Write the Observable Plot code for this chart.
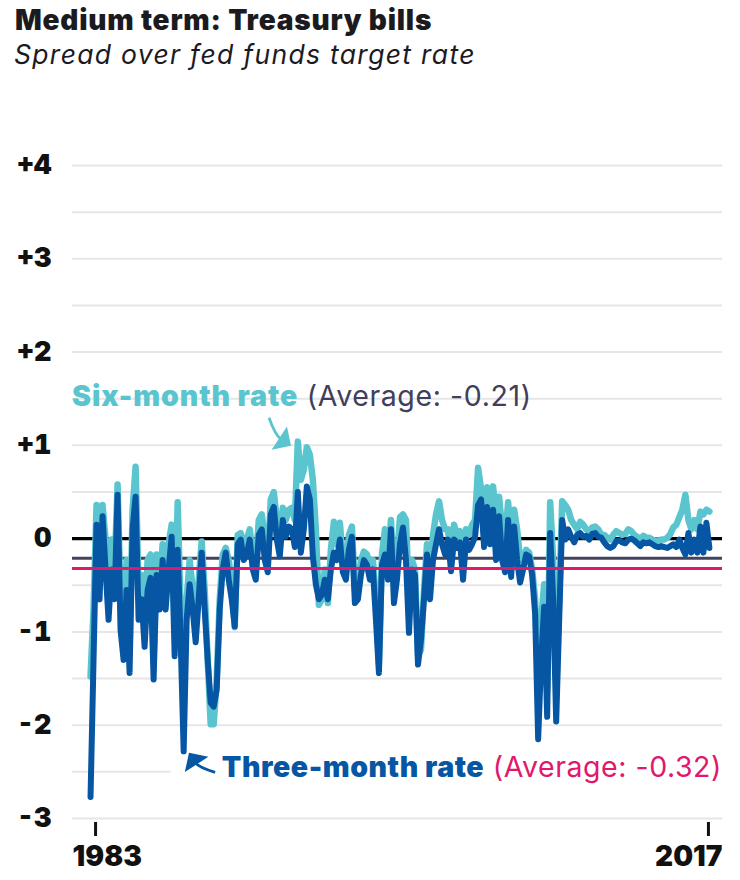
<!DOCTYPE html>
<html>
<head>
<meta charset="utf-8">
<script src="https://cdn.jsdelivr.net/npm/d3@7"></script>
<script src="https://cdn.jsdelivr.net/npm/@observablehq/plot@0.6"></script>
<style>
  html, body { margin: 0; padding: 0; background: #fff; }
  #wrap { width: 740px; height: 880px; position: relative; overflow: hidden; }
  #head { position: relative; height: 80px; }
  #title { position: absolute; left: 15px; top: 6px; font: 900 28px/1 Inter, sans-serif; letter-spacing: 0.8px; color: #1b1b1f; white-space: nowrap; }
  #subtitle { position: absolute; left: 14px; top: 41px; font: italic 400 26.5px/1 Inter, sans-serif; letter-spacing: 1.3px; color: #1b1b1f; white-space: nowrap; }
</style>
</head>
<body>
<div id="wrap">
  <div id="head">
    <div id="title">Medium term: Treasury bills</div>
    <div id="subtitle">Spread over fed funds target rate</div>
  </div>
  <div id="chart"></div>
</div>
<script>
// ---- data (spread in percentage points, sampled every 2 months) ----
const startYear = 1982.72;
const stepYears = 1 / 6;

const threeMonth = [
  -2.77, -1.30, 0.15, -0.65, 0.24, -0.33, -0.87, -0.33, -0.65, 0.47,
  -0.98, -1.30, -0.55, -1.44, 0.10, 0.45, -0.87, -0.65, -1.16, -0.55,
  -0.42, -1.51, -0.39, -0.76, -0.23, -0.76, -0.33, 0.02, -1.26, -0.12,
  -1.08, -2.28, -0.87, -0.49, -0.76, -1.11, -0.65, -0.15, -0.76, -1.30,
  -1.76, -1.80, -1.62, -0.76, -0.33, -0.15, -0.44, -0.65, -0.94, -0.06,
  -0.01, -0.23, -0.17, -0.01, -0.33, -0.44, 0.04, 0.10, -0.23, -0.36,
  0.26, 0.34, -0.01, -0.19, 0.20, 0.02, 0.13, 0.10, -0.09, 0.50,
  -0.15, 0.10, 0.56, 0.42, -0.19, -0.49, -0.65, -0.60, -0.44, -0.65,
  -0.33, -0.15, -0.23, -0.01, -0.36, -0.44, -0.12, 0.02, -0.69, -0.65,
  -0.39, -0.23, -0.28, -0.44, -0.33, -0.87, -1.44, -0.28, -0.17, -0.44,
  0.10, -0.69, -0.44, -0.06, 0.12, -0.23, -1.01, -0.33, -0.39, -1.35,
  -1.08, -0.65, -0.17, -0.65, -0.23, -0.06, 0.10, -0.06, -0.17, -0.01,
  -0.35, -0.01, -0.10, -0.04, -0.44, -0.01, -0.12, -0.06, 0.02, 0.36,
  0.42, -0.09, 0.34, -0.06, 0.31, -0.23, 0.24, -0.23, -0.36, 0.20,
  -0.41, 0.13, -0.23, -0.47, -0.33, -0.17, -0.19, -0.39, -0.81, -2.15,
  -1.30, -0.73, -1.91, 0.06, -0.65, -1.96, -0.87, 0.20, -0.01, 0.10,
  0.02, -0.04, 0.04, 0.06, 0.02, 0.03, -0.01, 0.05, 0.06, 0.02,
  0.01, -0.04, -0.08, -0.10, -0.08, -0.03, -0.02, -0.04, -0.05, -0.01,
  0.00, -0.02, -0.05, -0.08, -0.04, -0.05, -0.04, -0.06, -0.08, -0.09,
  -0.08, -0.09, -0.10, -0.08, -0.06, -0.09, -0.01, -0.10, -0.17, 0.06,
  -0.15, -0.01, -0.15, 0.13, -0.15, 0.17, -0.10
];

const sixMonth = [
  -1.48, -0.76, 0.36, -0.23, 0.36, -0.01, -0.55, -0.01, -0.33, 0.58,
  -0.65, -1.08, -0.23, -1.19, 0.31, 0.77, -0.55, -0.39, -0.87, -0.23,
  -0.17, -1.30, -0.17, -0.55, -0.06, -0.55, -0.06, 0.15, -0.98, 0.39,
  -0.76, -1.08, -0.65, -0.23, -0.55, -0.92, -0.44, -0.03, -0.55, -1.30,
  -1.99, -1.99, -1.51, -0.65, -0.17, -0.10, -0.23, -0.49, -0.95, 0.04,
  0.06, -0.06, -0.01, 0.10, -0.17, -0.28, 0.20, 0.26, -0.01, -0.23,
  0.42, 0.50, 0.20, -0.01, 0.33, 0.20, 0.31, 0.33, 0.20, 1.04,
  0.63, 0.74, 0.98, 0.90, 0.63, 0.10, -0.71, -0.65, -0.33, -0.69,
  -0.12, 0.18, -0.06, 0.17, -0.23, -0.33, 0.04, 0.13, -0.55, -0.55,
  -0.23, -0.14, -0.17, -0.28, -0.23, -0.65, -1.35, -0.17, 0.10, -0.23,
  0.20, -0.44, -0.23, 0.23, 0.26, 0.20, -0.65, -0.23, -0.33, -1.26,
  -1.19, -0.55, -0.06, -0.44, 0.04, 0.26, 0.40, 0.20, 0.10, 0.10,
  -0.23, 0.15, 0.04, 0.08, -0.33, 0.10, 0.04, 0.15, 0.20, 0.76,
  0.53, 0.31, 0.55, 0.36, 0.56, 0.20, 0.45, 0.10, -0.01, 0.39,
  -0.01, 0.31, 0.10, -0.23, -0.23, -0.12, -0.15, -0.33, -0.65, -1.59,
  -0.87, -0.49, -1.62, 0.39, -0.23, -1.51, -0.65, 0.40, 0.36, 0.31,
  0.20, 0.15, 0.10, 0.18, 0.15, 0.10, 0.08, 0.12, 0.13, 0.10,
  0.04, 0.04, 0.01, -0.01, 0.04, 0.08, 0.06, 0.04, 0.05, 0.10,
  0.08, 0.04, 0.02, -0.01, 0.03, 0.01, 0.01, -0.01, -0.02, -0.02,
  -0.01, -0.01, 0.01, 0.05, 0.12, 0.15, 0.23, 0.31, 0.47, 0.20,
  0.10, 0.20, 0.10, 0.29, 0.26, 0.31, 0.29
];

const sixAverage = -0.21;
const threeAverage = -0.32;

const yTicks = [-3, -2, -1, 0, 1, 2, 3, 4];
const gridLevels = [-3, -2.5, -2, -1.5, -1, -0.5, 0.5, 1, 1.5, 2, 2.5, 3, 3.5, 4];
const xTicks = [1983, 2017];
const xDomain = [1981.72, 2017.78];
const gridBreakYear = 1987.2; // the -2.5 gridline stops short of the label

const labels = {
  six: {x: xDomain[0], y: 1.42, anchor: "start",
        parts: [{text: "Six-month rate", color: "#5bc5cf", weight: 900, spacing: 0.9},
                {text: " (Average: -0.21)", color: "#3f3f5b", weight: 400, spacing: 0.6}]},
  three: {x: xDomain[1], y: -2.56, anchor: "end",
        parts: [{text: "Three-month rate", color: "#0656a3", weight: 900, spacing: 0.55},
                {text: " (Average: -0.32)", color: "#e0196b", weight: 400, spacing: 0.55}]}
};
const arrows = [
  {x1: 1992.65, y1: 1.29, x2: 1993.87, y2: 0.99, bend: 6, color: "#5bc5cf"},
  {x1: 1989.66, y1: -2.51, x2: 1988.21, y2: -2.30, bend: -6, color: "#0656a3"}
];

const colors = {six: "#5bc5cf", three: "#0656a3", sixAvg: "#43435d", threeAvg: "#e0196b", grid: "#e6e6e6"};

// ---- tables ----
const toRows = arr => arr.map((v, i) => ({year: startYear + i * stepYears, value: v}));
const sixRows = toRows(sixMonth);
const threeRows = toRows(threeMonth);

const fmt = d => d > 0 ? "+" + d : d < 0 ? "-" + Math.abs(d) : "0";

function richLabel(lab) {
  return (index, scales) => {
    const t = d3.create("svg:text")
      .attr("x", scales.x(lab.x))
      .attr("y", scales.y(lab.y))
      .attr("text-anchor", lab.anchor)
      .attr("font-size", 28.5)
      .attr("font-family", "Inter, sans-serif");
    lab.parts.forEach(p => t.append("tspan").attr("fill", p.color).attr("font-weight", p.weight)
      .attr("letter-spacing", p.spacing).text(p.text));
    return t.node();
  };
}

function curvedArrow(a) {
  return (index, scales) => {
    const x1 = scales.x(a.x1), y1 = scales.y(a.y1), x2 = scales.x(a.x2), y2 = scales.y(a.y2);
    const dx = x2 - x1, dy = y2 - y1, len = Math.hypot(dx, dy);
    const nx = -dy / len, ny = dx / len;
    const cx = (x1 + x2) / 2 + nx * a.bend, cy = (y1 + y2) / 2 + ny * a.bend;
    let ux = x2 - cx, uy = y2 - cy; const ul = Math.hypot(ux, uy); ux /= ul; uy /= ul;
    const hl = 14, hw = 14;
    const bx = x2 - ux * hl, by = y2 - uy * hl;
    const g = d3.create("svg:g");
    g.append("path")
      .attr("d", `M${x1},${y1}Q${cx},${cy} ${bx + ux * 2},${by + uy * 2}`)
      .attr("fill", "none").attr("stroke", a.color).attr("stroke-width", 2.8);
    g.append("path")
      .attr("d", `M${x2},${y2}L${bx - uy * hw},${by + ux * hw}L${bx + uy * hw},${by - ux * hw}Z`)
      .attr("fill", a.color);
    return g.node();
  };
}

const chart = Plot.plot({
  width: 740,
  height: 800,
  marginLeft: 72,
  marginRight: 18,
  marginTop: 85,
  marginBottom: 58,
  x: {domain: xDomain, label: null},
  y: {domain: [-3, 4], insetBottom: 4, label: null},
  style: {fontFamily: "Inter, sans-serif", fontSize: "27px", fontWeight: 900, color: "#111", background: "#fff", overflow: "visible"},
  marks: [
    Plot.ruleY(gridLevels.filter(d => d !== -2.5), {stroke: colors.grid, strokeWidth: 2}),
    Plot.ruleY([-2.5], {x1: xDomain[0], x2: gridBreakYear, stroke: colors.grid, strokeWidth: 2}),
    Plot.ruleY([0], {stroke: "#000", strokeWidth: 3.2}),
    Plot.ruleY([sixAverage], {stroke: colors.sixAvg, strokeWidth: 3}),
    Plot.line(sixRows, {x: "year", y: "value", stroke: colors.six, strokeWidth: 6.5, strokeLinejoin: "round", strokeLinecap: "round"}),
    Plot.line(threeRows, {x: "year", y: "value", stroke: colors.three, strokeWidth: 6, strokeLinejoin: "round", strokeLinecap: "round"}),
    Plot.ruleY([threeAverage], {stroke: colors.threeAvg, strokeWidth: 3}),
    Plot.axisY(yTicks, {tickSize: 0, tickPadding: 21, tickFormat: fmt, fontSize: 27, fontWeight: 900, fill: "#111", label: null}),
    Plot.axisX(xTicks, {tickSize: 14, tickFormat: () => "", stroke: "#111", strokeWidth: 3, label: null}),
    Plot.text([xTicks[0]], {x: d => d, text: d => String(d), frameAnchor: "bottom", textAnchor: "start", dx: -23, dy: 43, fontSize: 28, fontWeight: 900, fill: "#111"}),
    Plot.text([xTicks[1]], {x: d => d, text: d => String(d), frameAnchor: "bottom", textAnchor: "end", dx: 14, dy: 43, fontSize: 28, fontWeight: 900, fill: "#111"}),
    richLabel(labels.six),
    richLabel(labels.three),
    ...arrows.map(curvedArrow)
  ]
});
document.getElementById("chart").appendChild(chart);
</script>
</body>
</html>
